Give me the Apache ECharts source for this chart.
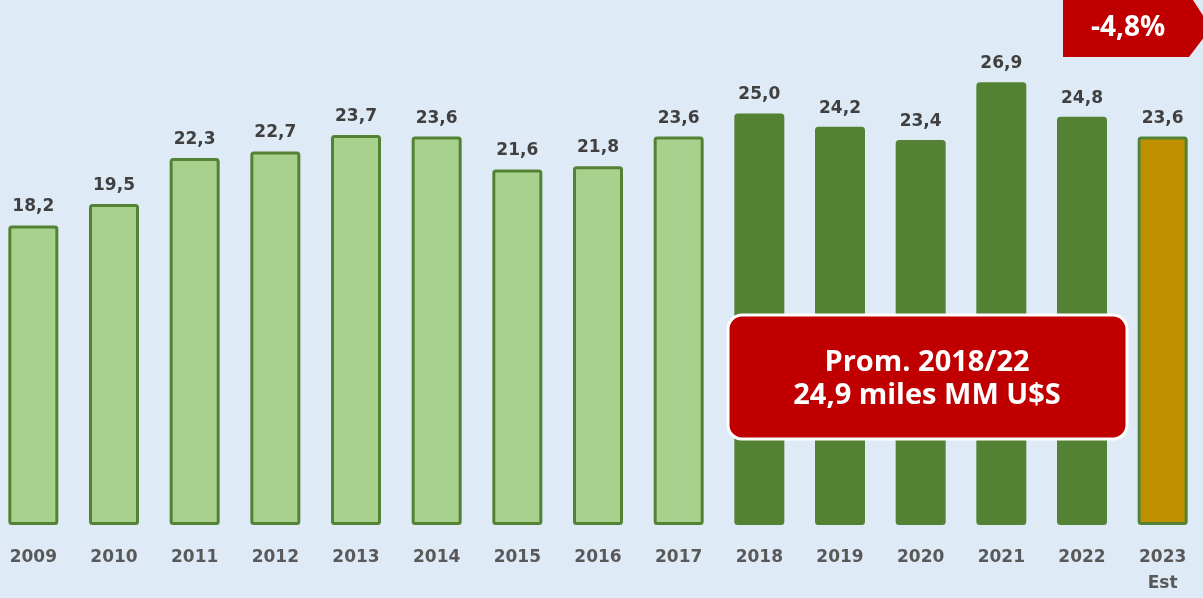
<!DOCTYPE html>
<html>
<head>
<meta charset="utf-8">
<script src="https://cdn.jsdelivr.net/npm/echarts@6/dist/echarts.min.js"></script>
<style>
  html, body { margin: 0; padding: 0; background: #deeaf6; }
  #chart { width: 1203px; height: 598px; }
</style>
</head>
<body>
<div id="chart"></div>
<script>
var years = ['2009', '2010', '2011', '2012', '2013', '2014', '2015', '2016', '2017', '2018', '2019', '2020', '2021', '2022', '2023\nEst'];
var values = [18.2, 19.5, 22.3, 22.7, 23.7, 23.6, 21.6, 21.8, 23.6, 25.0, 24.2, 23.4, 26.9, 24.8, 23.6];
// tipo de barra: 0 = claro, 1 = oscuro (prom.), 2 = estimado
var kinds = [0, 0, 0, 0, 0, 0, 0, 0, 0, 1, 1, 1, 1, 1, 2];
var fills = ['#a9d18e', '#548235', '#bf9000'];

var labelFont = 'DejaVu Sans';
var boxFont = 'Open Sans';

var chart = echarts.init(document.getElementById('chart'));

var option = {
    backgroundColor: '#deeaf6',
    animation: false,
    grid: { left: -7, width: 1210, top: 0, bottom: 73, outerBoundsMode: 'none', containLabel: false },
    xAxis: {
        type: 'category',
        data: years,
        axisLine: { show: false },
        axisTick: { show: false },
        axisLabel: {
            color: '#595959',
            fontFamily: labelFont,
            fontWeight: 'bold',
            fontSize: 17,
            lineHeight: 26,
            margin: 20,
            verticalAlign: 'top'
        }
    },
    yAxis: {
        type: 'value',
        min: 0,
        max: 31.9,
        show: false,
        splitLine: { show: false }
    },
    series: [{
        type: 'bar',
        barWidth: 50,
        data: values.map(function (v, i) {
            return {
                value: v,
                itemStyle: {
                    color: fills[kinds[i]],
                    borderColor: '#548235',
                    borderWidth: 3,
                    borderRadius: 2
                }
            };
        }),
        label: {
            show: true,
            position: 'top',
            distance: 10,
            color: '#404040',
            fontFamily: labelFont,
            fontWeight: 'bold',
            fontSize: 17,
            formatter: function (p) {
                return p.value.toFixed(1).replace('.', ',');
            }
        }
    }],
    graphic: [
        {
            type: 'rect',
            shape: { x: 728, y: 315, width: 399, height: 124, r: 14 },
            style: { fill: '#c00000', stroke: '#ffffff', lineWidth: 3 },
            z: 10
        },
        {
            type: 'text',
            x: 927,
            y: 379,
            style: {
                text: 'Prom. 2018/22\n24,9 miles MM U$S',
                fill: '#ffffff',
                font: 'bold 29px "' + boxFont + '"',
                lineHeight: 33,
                align: 'center',
                verticalAlign: 'middle'
            },
            z: 11
        },
        {
            type: 'polygon',
            shape: { points: [[1063, 0], [1193, 0], [1211, 28], [1189, 57], [1063, 57]] },
            style: { fill: '#c00000' },
            z: 10
        },
        {
            type: 'text',
            x: 1128,
            y: 28,
            style: {
                text: '-4,8%',
                fill: '#ffffff',
                font: 'bold 28px "' + boxFont + '"',
                align: 'center',
                verticalAlign: 'middle'
            },
            z: 11
        }
    ]
};

chart.setOption(option);
</script>
</body>
</html>
